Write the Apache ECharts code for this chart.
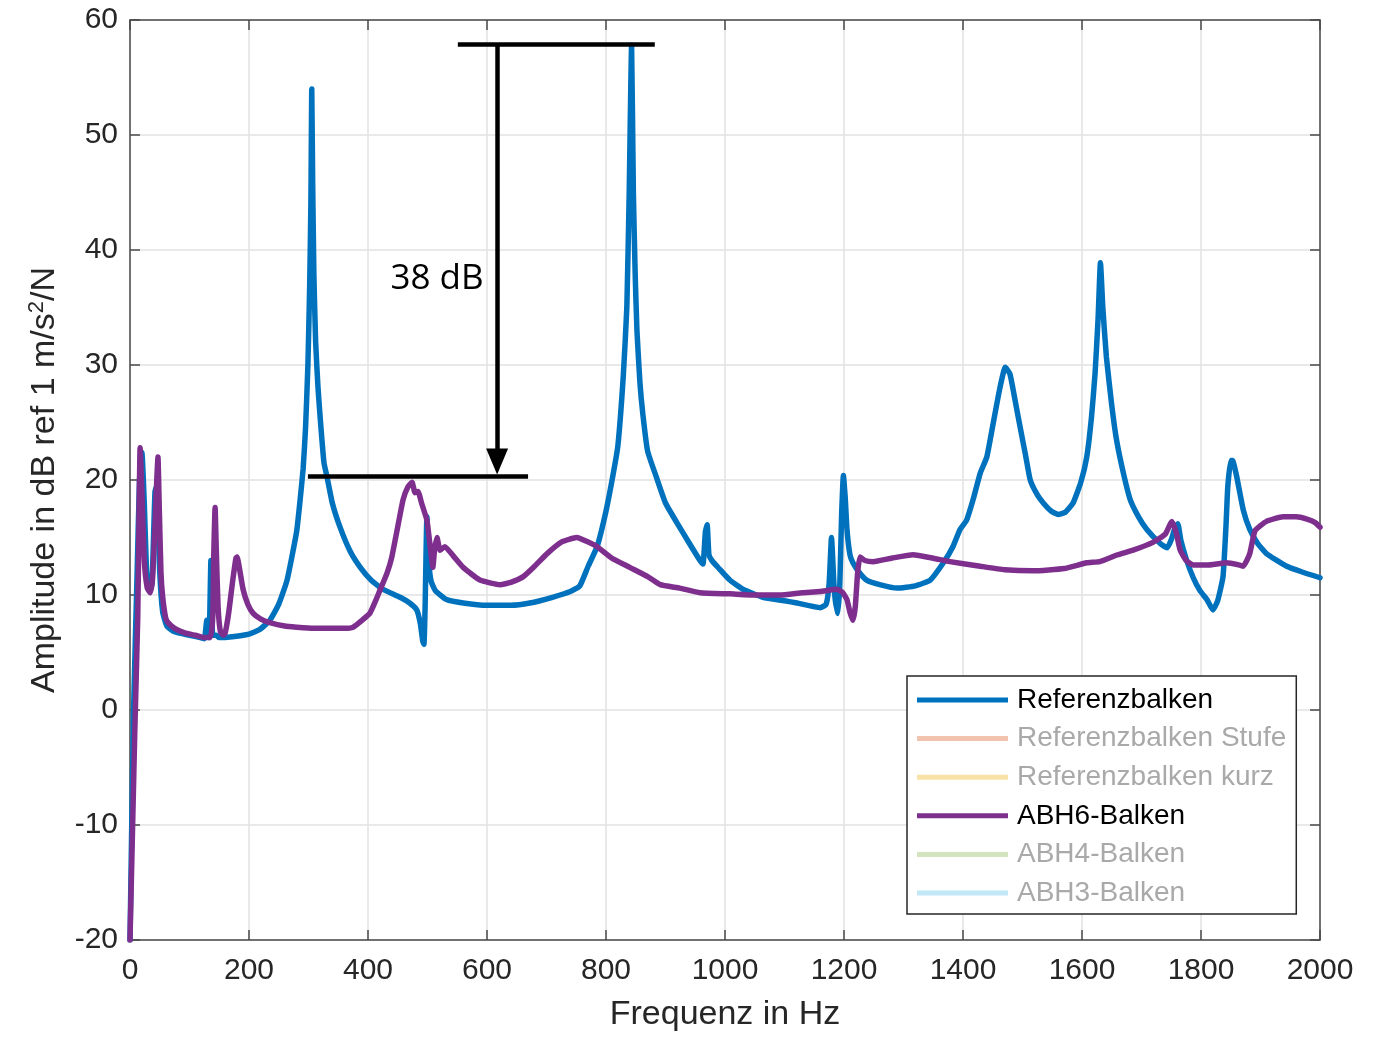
<!DOCTYPE html>
<html>
<head>
<meta charset="utf-8">
<title>Frequenzgang</title>
<script src="https://cdn.jsdelivr.net/npm/echarts@6/dist/echarts.min.js"></script>
<style>
  html, body { margin: 0; padding: 0; background: #fff; }
  #chart { width: 1384px; height: 1037px; }
</style>
</head>
<body>
<div id="chart"></div>
<script>
// Referenzbalken (blau)
var refFreq = [0, 6, 12, 16, 20, 24, 28, 33, 37, 42, 45, 50, 55, 62, 75, 100, 118, 125, 129, 131, 133, 136, 139, 145,
  150, 168, 200, 218, 235, 250, 264, 280, 286, 291, 295, 299, 302, 304, 305.5, 307, 309, 312, 316, 321, 326, 331,
  340, 353, 370, 387, 405, 425, 454, 470, 482, 488, 492, 494, 496, 499, 502, 506, 513, 532, 560, 600, 640, 672,
  710, 740, 756, 770, 785, 800, 812, 820, 829, 835, 839, 843, 846, 849, 852, 857, 862, 870, 885, 900, 919, 940,
  958, 963, 967, 970, 973, 978, 990, 1008, 1030, 1064, 1100, 1121, 1160, 1170, 1175, 1179, 1183, 1186, 1190,
  1193, 1196, 1199, 1202, 1205, 1210, 1215, 1225, 1238, 1260, 1289, 1320, 1345, 1367, 1383, 1395, 1406, 1417,
  1429, 1440, 1451, 1462, 1471, 1479, 1488, 1496, 1505, 1513, 1525, 1535, 1548, 1560, 1572, 1585, 1598, 1608,
  1616, 1622, 1627, 1631, 1635, 1641, 1650, 1658, 1670, 1681, 1695, 1709, 1731, 1743, 1750, 1756, 1761, 1766,
  1776, 1787, 1798, 1810, 1820, 1828, 1837, 1842, 1845, 1850, 1853, 1860, 1871, 1882, 1895, 1910, 1944, 1970, 2000];
var refAmp = [-20, 0, 12, 20, 22.4, 18, 12, 10.3, 11, 19, 19.5, 12, 8.5, 7.3, 6.8, 6.5, 6.3, 6.2, 7.8, 6.6, 6.3, 13, 6.5, 6.5,
  6.3, 6.35, 6.6, 7.0, 7.8, 9.2, 11.3, 15.5, 18.3, 21, 24.5, 30, 37, 44, 54, 46, 38, 32, 28, 24.5, 21.5, 20.3,
  18, 15.9, 13.8, 12.4, 11.3, 10.5, 9.8, 9.3, 8.7, 7.5, 6, 5.7, 9, 16.8, 13, 11.2, 10.4, 9.6, 9.3, 9.1, 9.1, 9.3,
  9.8, 10.3, 10.8, 12.5, 14.2, 17.3, 20.5, 23, 29, 35, 45, 57.8, 45, 38, 33, 28.5, 25.7, 22.5, 20.2, 18, 16.3, 14.5,
  13, 12.7, 15.5, 16.1, 13.5, 13.0, 12.3, 11.3, 10.5, 9.8, 9.5, 9.3, 8.9, 9.2, 11, 15.0, 11, 9.3, 8.4,
  11, 17, 20.4, 18.5, 15.7, 13.5, 12.8, 12, 11.3, 10.9, 10.6, 10.8, 11.3, 12.8, 14.2, 15.7, 16.5, 18.3,
  20.6, 22, 25, 28, 29.8, 29.2, 26.8, 24.6, 22.2, 20, 18.7, 18, 17.3, 17.0, 17.2, 18, 19.8, 22,
  25.5, 29.3, 34, 38.9, 35, 30.7, 26.5, 23.5, 20.5, 18.3, 16.8, 15.7, 14.5, 14.1, 14.8, 15.8, 16.2, 14.8,
  13, 11.5, 10.4, 9.6, 8.7, 9.5, 11.6, 16, 19.4, 21.7, 21.7, 20.3, 17.4, 15.7, 14.5, 13.6, 12.5, 12.0, 11.5];

// ABH6-Balken (lila)
var abhFreq = [0, 8, 13, 15, 17, 20, 24, 29, 34, 38, 42, 45, 47, 49, 52, 55, 60, 64, 75, 92, 110, 125, 135, 139, 141, 143,
  145, 148, 152, 157, 160, 166, 172, 178, 180, 184, 190, 198, 207, 220, 235, 260, 280, 308, 340, 360, 375, 390,
  403, 412, 420, 432, 440, 448, 459, 467, 474, 479, 484, 490, 499, 505, 509, 512, 516, 521, 529, 545, 560, 588,
  622, 640, 661, 680, 701, 725, 751, 770, 785, 810, 840, 870, 891, 924, 958, 1008, 1054, 1092, 1130, 1160, 1188,
  1198, 1205, 1210, 1215, 1219, 1223, 1227, 1235, 1249, 1280, 1316, 1350, 1378, 1429, 1470, 1518, 1570, 1608,
  1630, 1660, 1686, 1720, 1740, 1751, 1758, 1765, 1775, 1787, 1810, 1843, 1865, 1871, 1877, 1882, 1891, 1910,
  1938, 1960, 1978, 1992, 2000];
var abhAmp = [-20, -2, 8, 16, 22.8, 19, 13, 10.6, 10.2, 11.5, 16, 20, 22, 18, 12, 9.8, 8, 7.6, 7.1, 6.7, 6.5, 6.3, 6.3, 8, 14, 17.6,
  14, 9, 6.8, 6.5, 6.7, 8.5, 11, 13.2, 13.3, 12.3, 10.5, 9.2, 8.4, 7.9, 7.6, 7.3, 7.2, 7.1, 7.1, 7.1, 7.2, 7.8,
  8.4, 9.4, 10.4, 11.9, 13.3, 15.4, 18.3, 19.4, 19.8, 18.9, 19.0, 18, 16.5, 14, 12.4, 14, 15, 13.9, 14.2, 13.3, 12.4, 11.3,
  10.9, 11.1, 11.6, 12.5, 13.6, 14.6, 15.0, 14.6, 14.2, 13.2, 12.4, 11.6, 10.9, 10.6, 10.2, 10.1, 10.0, 10.0, 10.2, 10.3, 10.5,
  10.2, 9.6, 8.5, 7.8, 9, 12, 13.3, 13.0, 12.9, 13.2, 13.5, 13.2, 12.9, 12.5, 12.2, 12.1, 12.3, 12.8,
  12.9, 13.5, 13.9, 14.6, 15.3, 16.4, 15.5, 13.9, 13, 12.6, 12.6, 12.8, 12.6, 12.5, 13, 13.6, 15.6, 16.4,
  16.8, 16.8, 16.6, 16.3, 15.9];

var seriesNames = ['Referenzbalken', 'Referenzbalken Stufe', 'Referenzbalken kurz', 'ABH6-Balken', 'ABH4-Balken', 'ABH3-Balken'];
var seriesColors = ['#0072BD', '#F2C3AE', '#F8E2A6', '#7E2F8E', '#D3E5BE', '#C2E7F7'];
var activeSeries = ['Referenzbalken', 'ABH6-Balken'];

var xTicks = { min: 0, max: 2000, interval: 200 };
var yTicks = { min: -20, max: 60, interval: 10 };

// Annotation 38 dB: Pegel oben/unten und Position des Pfeils
var annotTop = 57.9, annotBottom = 20.3, annotArrowEnd = 21.6;
var annotTopX = [551, 882], annotBottomX = [299, 669], annotArrowX = 617;
var annotLabel = '38 dB', annotLabelPos = [516, 37.5];

function zip(a, b) {
  var out = [];
  for (var i = 0; i < a.length; i++) out.push([a[i], b[i]]);
  return out;
}

var chart = echarts.init(document.getElementById('chart'));
var axisColor = '#4a4a4a';
var textColor = '#262626';
var font = 'Liberation Sans';

var series = [];
for (var i = 0; i < seriesNames.length; i++) {
  var name = seriesNames[i];
  var data = [];
  if (name === 'Referenzbalken') data = zip(refFreq, refAmp);
  if (name === 'ABH6-Balken') data = zip(abhFreq, abhAmp);
  series.push({
    name: name,
    type: 'line',
    data: data,
    color: seriesColors[i],
    showSymbol: false,
    symbol: 'none',
    smooth: 0.15,
    lineStyle: { width: 5.5, color: seriesColors[i], join: 'round', cap: 'round' },
    z: activeSeries.indexOf(name) >= 0 ? 3 : 2
  });
}
// Pfeil und Beschriftung
series.push({
  name: 'annot',
  type: 'line',
  data: [],
  z: 5,
  markLine: {
    silent: true,
    animation: false,
    symbol: ['none', 'none'],
    label: { show: false },
    lineStyle: { color: '#000', width: 4.5, type: 'solid' },
    emphasis: { disabled: true },
    data: [
      [{ coord: [annotTopX[0], annotTop] }, { coord: [annotTopX[1], annotTop] }],
      [{ coord: [annotBottomX[0], annotBottom] }, { coord: [annotBottomX[1], annotBottom] }],
      [{ coord: [annotArrowX, annotTop], symbol: 'none' },
       { coord: [annotArrowX, annotArrowEnd], symbol: 'triangle', symbolSize: [22, 26] }]
    ]
  },
  markPoint: {
    silent: true,
    animation: false,
    symbol: 'circle',
    symbolSize: 0,
    data: [{ coord: annotLabelPos }],
    label: {
      show: true, position: 'inside', formatter: annotLabel,
      color: '#000', fontSize: 35, fontFamily: 'Open Sans'
    }
  }
});

var legendData = seriesNames.map(function (n) {
  return { name: n, textStyle: { color: activeSeries.indexOf(n) >= 0 ? '#000' : '#a9a9a9' } };
});

function plain(v) { return String(v); }

chart.setOption({
  animation: false,
  backgroundColor: '#fff',
  grid: { left: 130, right: 64, top: 20, bottom: 97, containLabel: false },
  legend: {
    orient: 'vertical',
    left: 907,
    top: 676,
    padding: [9, 10, 6, 10],
    itemGap: 8.6,
    icon: 'rect',
    itemWidth: 91,
    itemHeight: 5,
    backgroundColor: '#fff',
    borderColor: '#262626',
    borderWidth: 1.5,
    borderRadius: 0,
    selectedMode: false,
    data: legendData,
    textStyle: { fontSize: 28, fontFamily: font, lineHeight: 30, padding: [0, 0, 0, 4] }
  },
  xAxis: [{
    type: 'value',
    min: xTicks.min, max: xTicks.max, interval: xTicks.interval,
    name: 'Frequenz in Hz',
    nameLocation: 'middle',
    nameGap: 58,
    nameTextStyle: { fontSize: 34, fontFamily: font, color: textColor },
    axisLine: { show: true, onZero: false, lineStyle: { color: axisColor, width: 1.5 } },
    axisTick: { show: true, inside: true, length: 10, lineStyle: { color: axisColor, width: 1.5 } },
    axisLabel: { fontSize: 30, fontFamily: font, color: textColor, margin: 16, formatter: plain },
    splitLine: { show: true, lineStyle: { color: '#e2e2e2', width: 1.5 } }
  }, {
    type: 'value',
    position: 'top',
    min: xTicks.min, max: xTicks.max, interval: xTicks.interval,
    axisLine: { show: true, onZero: false, lineStyle: { color: axisColor, width: 1.5 } },
    axisTick: { show: true, inside: true, length: 10, lineStyle: { color: axisColor, width: 1.5 } },
    axisLabel: { show: false },
    splitLine: { show: false }
  }],
  yAxis: [{
    type: 'value',
    min: yTicks.min, max: yTicks.max, interval: yTicks.interval,
    name: 'Amplitude in dB ref 1 m/s{sup|2}/N',
    nameLocation: 'middle',
    nameGap: 66,
    nameTextStyle: {
      fontSize: 34, fontFamily: font, color: textColor,
      rich: { sup: { fontSize: 22, fontFamily: font, color: textColor, verticalAlign: 'top', padding: [0, 0, 16, 0] } }
    },
    axisLine: { show: true, onZero: false, lineStyle: { color: axisColor, width: 1.5 } },
    axisTick: { show: true, inside: true, length: 10, lineStyle: { color: axisColor, width: 1.5 } },
    axisLabel: { fontSize: 30, fontFamily: font, color: textColor, margin: 12, formatter: plain },
    splitLine: { show: true, lineStyle: { color: '#e2e2e2', width: 1.5 } }
  }, {
    type: 'value',
    position: 'right',
    min: yTicks.min, max: yTicks.max, interval: yTicks.interval,
    axisLine: { show: true, onZero: false, lineStyle: { color: axisColor, width: 1.5 } },
    axisTick: { show: true, inside: true, length: 10, lineStyle: { color: axisColor, width: 1.5 } },
    axisLabel: { show: false },
    splitLine: { show: false }
  }],
  series: series
});
</script>
</body>
</html>
